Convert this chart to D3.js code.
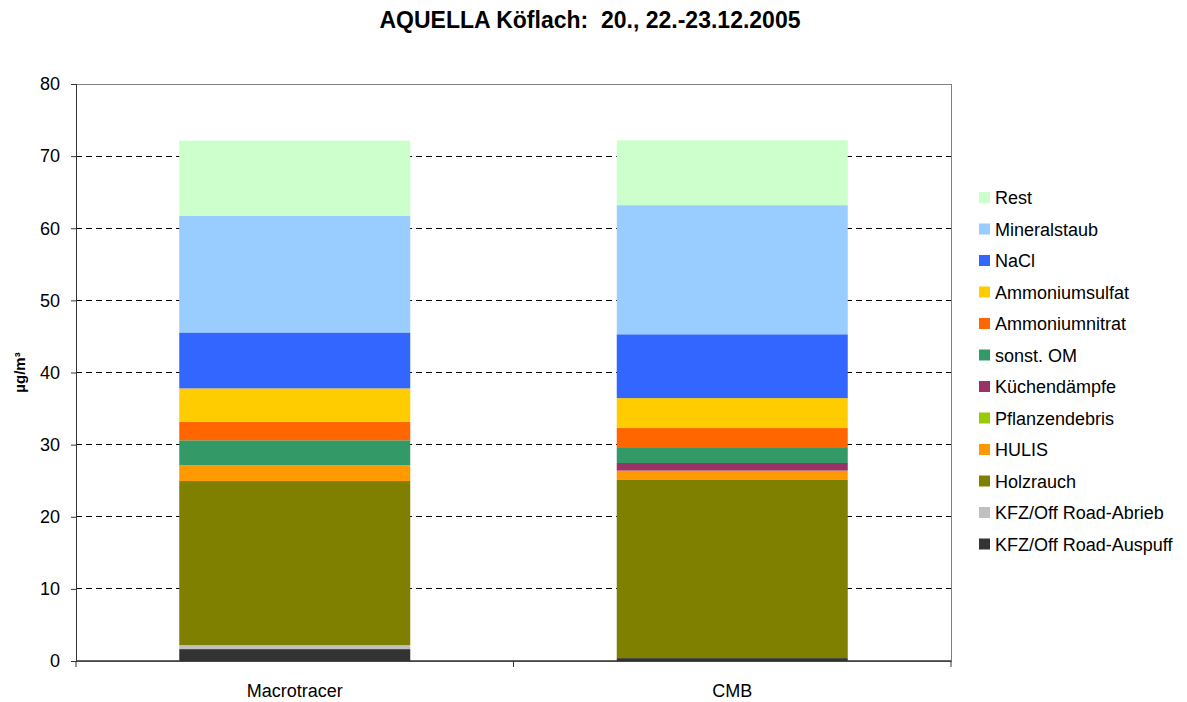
<!DOCTYPE html>
<html>
<head>
<meta charset="utf-8">
<script src="https://cdn.jsdelivr.net/npm/d3@7"></script>
<style>
  body { margin: 0; background: #fff; }
  svg { font-family: "Liberation Sans", Arial, sans-serif; }
</style>
</head>
<body>
<svg></svg>
<script>
let categories = ["Macrotracer", "CMB"]

// stacking order, bottom to top
let sources = ["KFZ/Off Road-Auspuff", "KFZ/Off Road-Abrieb", "Holzrauch", "HULIS", "Pflanzendebris",
  "Küchendämpfe", "sonst. OM", "Ammoniumnitrat", "Ammoniumsulfat", "NaCl", "Mineralstaub", "Rest"]
let colors = ["#333333", "#c0c0c0", "#808000", "#ff9900", "#99cc00",
  "#993366", "#339966", "#ff6600", "#ffcc00", "#3366ff", "#99ccff", "#ccffcc"]

let macrotracer = [1.65, 0.55, 22.75, 2.2, 0, 0, 3.45, 2.55, 4.65, 7.75, 16.2, 10.4]
let cmb = [0.4, 0, 24.7, 1.3, 0, 1.05, 2.2, 2.65, 4.15, 8.85, 17.9, 9.0]

let yTicks = [0, 10, 20, 30, 40, 50, 60, 70, 80]

let width = 1187
let height = 702
let plotLeft = 76, plotRight = 951, plotTop = 84, plotBottom = 661

let svg = d3.select("svg").attr("width", width).attr("height", height)

let rows = categories.map((c, i) => {
  let vals = i == 0 ? macrotracer : cmb
  let row = { cat: c }
  sources.forEach((s, j) => { row[s] = vals[j] })
  return row
})

let stacked = d3.stack().keys(sources)(rows)

let xScale = d3.scaleBand().domain(categories).range([plotLeft, plotRight])
  .paddingInner(0.472).paddingOuter(0.236)
let yScale = d3.scaleLinear().domain([0, 80]).range([plotBottom, plotTop])

// gridlines
svg.append("g")
  .selectAll("line")
  .data(yTicks.filter(t => t > 0 && t < 80))
  .enter()
  .append("line")
  .attr("x1", plotLeft).attr("x2", plotRight)
  .attr("y1", d => yScale(d)).attr("y2", d => yScale(d))
  .attr("stroke", "#000")
  .attr("stroke-dasharray", "6,4")
  .attr("shape-rendering", "crispEdges")

// plot border
svg.append("rect")
  .attr("x", plotLeft).attr("y", plotTop)
  .attr("width", plotRight - plotLeft).attr("height", plotBottom - plotTop)
  .attr("fill", "none")
  .attr("stroke", "#808080")
  .attr("shape-rendering", "crispEdges")

// bars
svg.append("g")
  .selectAll("g")
  .data(stacked)
  .enter()
  .append("g")
  .attr("fill", (d, i) => colors[i])
  .selectAll("rect")
  .data(d => d)
  .enter()
  .append("rect")
  .attr("x", d => xScale(d.data.cat))
  .attr("width", xScale.bandwidth())
  .attr("y", d => yScale(d[1]))
  .attr("height", d => yScale(d[0]) - yScale(d[1]))

// y axis
let yAxis = d3.axisLeft(yScale).tickValues(yTicks).tickSize(5).tickPadding(11)
let yg = svg.append("g")
  .attr("transform", "translate(" + plotLeft + ",0)")
  .call(yAxis)
yg.selectAll("text").attr("font-size", 18).attr("fill", "#000")
  .style("font-family", "Liberation Sans, Arial, sans-serif")
yg.selectAll("line, path").attr("stroke", "#333")

// x axis with ticks between categories
let xg = svg.append("g")
  .attr("transform", "translate(0," + plotBottom + ")")
xg.append("line").attr("x1", plotLeft).attr("x2", plotRight).attr("stroke", "#333").attr("stroke-width", 1.5)
xg.selectAll(".tk")
  .data([plotLeft, (plotLeft + plotRight) / 2, plotRight])
  .enter()
  .append("line")
  .attr("x1", d => d).attr("x2", d => d)
  .attr("y1", 0).attr("y2", 6)
  .attr("stroke", "#333")
xg.selectAll(".lbl")
  .data(categories)
  .enter()
  .append("text")
  .attr("x", d => xScale(d) + xScale.bandwidth() / 2)
  .attr("y", 36)
  .attr("text-anchor", "middle")
  .attr("font-size", 18)
  .text(d => d)

// title
svg.append("text")
  .attr("x", 590).attr("y", 28)
  .attr("text-anchor", "middle")
  .attr("font-size", 23)
  .attr("font-weight", "bold")
  .style("white-space", "pre")
  .text("AQUELLA Köflach:  20., 22.-23.12.2005")

// y label
svg.append("text")
  .attr("transform", "translate(25," + ((plotTop + plotBottom) / 2) + ") rotate(-90)")
  .attr("text-anchor", "middle")
  .attr("font-size", 15)
  .attr("font-weight", "bold")
  .text("µg/m³")

// legend, top to bottom reversed
let legendItems = sources.map((s, i) => ({ name: s, color: colors[i] })).reverse()
let legend = svg.append("g")
legend.selectAll("rect")
  .data(legendItems)
  .enter()
  .append("rect")
  .attr("x", 979)
  .attr("y", (d, i) => 192 + i * 31.5)
  .attr("width", 11).attr("height", 11)
  .attr("fill", d => d.color)
legend.selectAll("text")
  .data(legendItems)
  .enter()
  .append("text")
  .attr("x", 995)
  .attr("y", (d, i) => 204 + i * 31.5)
  .attr("font-size", 18)
  .text(d => d.name)
</script>
</body>
</html>
